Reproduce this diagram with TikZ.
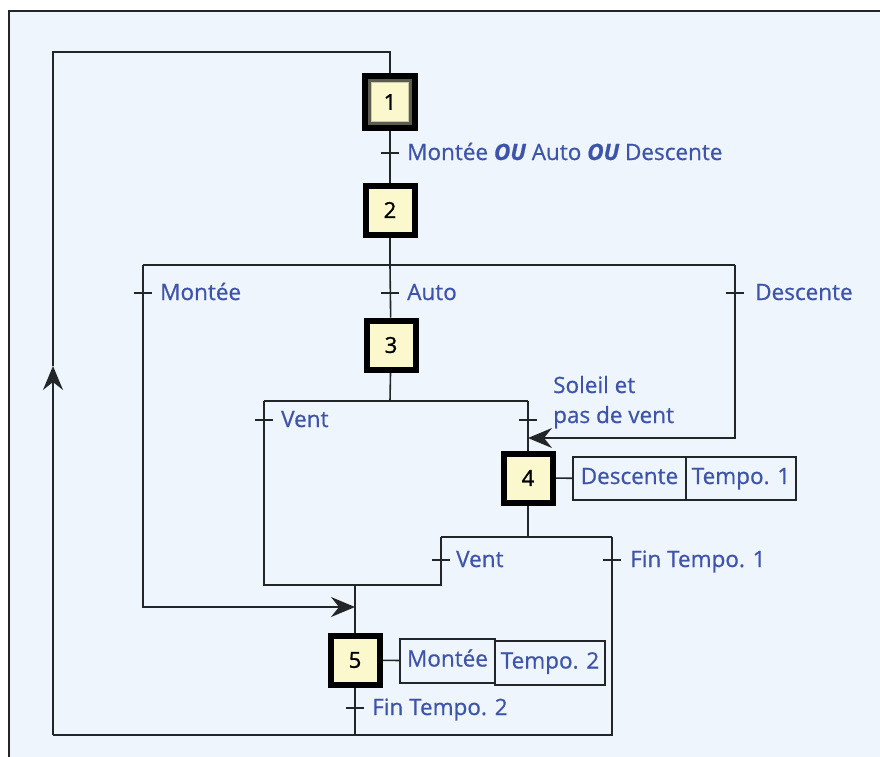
\documentclass[tikz,border=0pt]{standalone}
\usepackage{fontspec}
\setmainfont{Open Sans}
\newfontfamily\lblfont{Open Sans}[FakeBold=0.7]
\newfontfamily\numfont{Open Sans}[FakeBold=1.2]
\usetikzlibrary{arrows.meta}
\definecolor{bgc}{RGB}{238,245,252}
\definecolor{txt}{RGB}{62,84,170}
\definecolor{cream}{RGB}{251,248,206}
\definecolor{ln}{RGB}{35,38,40}
\definecolor{band}{RGB}{92,92,80}
\begin{document}
\begin{tikzpicture}[x=1pt,y=-1pt,
  wire/.style={draw=ln, line width=1.6pt},
  arr/.style={wire, -{Stealth[length=24pt,width=20pt,inset=8pt]}},
  stepbox/.style={draw=black, line width=6pt, fill=cream, minimum width=49pt, minimum height=49pt, inner sep=0pt, font=\numfont\fontsize{22}{22}\selectfont, text=black},
  initouter/.style={draw=black, line width=6pt, fill=band, minimum width=50pt, minimum height=52pt, inner sep=0pt},
  initinner/.style={draw=cream!70!band, line width=1pt, fill=cream, minimum width=37pt, minimum height=39pt, inner sep=0pt, font=\numfont\fontsize{22}{22}\selectfont, text=black},
  lbl/.style={text=txt, font=\lblfont\fontsize{22.5}{30}\selectfont, inner sep=0pt},
  act/.style={draw=ln, line width=1.5pt, text=txt, font=\lblfont\fontsize{22.5}{22.5}\selectfont, inner sep=0pt, text height=16pt, text depth=5pt}
]
\useasboundingbox (0,0) rectangle (880,756);
\fill[white] (0,0) rectangle (880,756);
\draw[fill=bgc, draw=ln, line width=1.5pt] (9,11) rectangle (900,780);

% junction coordinates
\coordinate (top) at (390,52);
\coordinate (tl) at (53,52);
\coordinate (bl) at (53,735);
\coordinate (up) at (53,366);
\coordinate (d2l) at (143,265);
\coordinate (d2m) at (390,265);
\coordinate (d2r) at (735,265);
\coordinate (mA) at (143,607);
\coordinate (mB) at (355,607);
\coordinate (dA) at (735,438);
\coordinate (dB) at (528,438);
\coordinate (d3l) at (264,401);
\coordinate (d3m) at (390,401);
\coordinate (d3r) at (528,401);
\coordinate (j1) at (264,585);
\coordinate (j2) at (441,585);
\coordinate (j5) at (355,585);
\coordinate (d4l) at (441,537);
\coordinate (d4m) at (528,537);
\coordinate (d4r) at (612,537);
\coordinate (br) at (612,735);
\coordinate (b5) at (355,735);
% transitions
\coordinate (t1) at (390,153);
\coordinate (t2a) at (143,293);
\coordinate (t2b) at (390,293);
\coordinate (t2c) at (735,293);
\coordinate (t3a) at (264,420);
\coordinate (t3b) at (528,420);
\coordinate (t4a) at (441,560);
\coordinate (t4b) at (612,560);
\coordinate (t5) at (355,708);

% steps
\node[initouter] (s1) at (390,102) {};
\node[stepbox] (s2) at (390,210) {2};
\node[stepbox] (s3) at (391,345) {3};
\node[stepbox] (s4) at (528,478) {4};
\node[stepbox] (s5) at (355,660) {5};

% actions
\node[act, minimum width=113pt, minimum height=43pt] (a4a) at (629.5,478.5) {Descente};
\node[act, minimum width=110pt, minimum height=43pt] (a4b) at (741,478.5) {Tempo. 1};
\node[act, minimum width=95pt, minimum height=44pt] (a5a) at (447.5,661) {Montée};
\node[act, minimum width=110pt, minimum height=44pt] (a5b) at (550,663) {Tempo. 2};

% wires
\draw[arr] (bl) -- (up);
\draw[wire] (up) -- (tl) -- (top) -- (s1.north);
\draw[wire] (s1) -- (s2);
\draw[wire] (s2) -- (d2m);
\draw[wire] (d2l) -- (d2r);
\draw[wire] (d2m) -- (s3);
\draw[arr] (d2l) -- (mA) -- (mB);
\draw[arr] (d2r) -- (dA) -- (dB);
\draw[wire] (s3) -- (d3m);
\draw[wire] (d3l) -- (d3r);
\draw[wire] (d3r) -- (s4);
\draw[wire] (d3l) -- (j1) -- (j2) -- (d4l);
\draw[wire] (s4) -- (d4m);
\draw[wire] (d4l) -- (d4r);
\draw[wire] (d4r) -- (br) -- (bl);
\draw[wire] (j5) -- (s5);
\draw[wire] (s5) -- (b5);
\draw[wire] (s4) -- (a4a);
\draw[wire] (s5) -- (a5a);
\foreach \t in {t1,t2a,t2b,t2c,t3a,t3b,t4a,t4b,t5}
  \draw[wire] ([xshift=-9pt]\t) -- ([xshift=9pt]\t);

% redraw steps on top
\node[initouter] at (s1) {};
\node[initinner] (s1i) at (s1) {1};
\node[stepbox] at (s2) {2};
\node[stepbox] at (s3) {3};
\node[stepbox] at (s4) {4};
\node[stepbox] at (s5) {5};

% labels
\node[lbl, anchor=base west] (l1) at (407,160) {Montée {\itshape\bfseries OU} Auto {\itshape\bfseries OU} Descente};
\node[lbl, anchor=base west] (l2a) at (160,300) {Montée};
\node[lbl, anchor=base west] (l2b) at (407,300) {Auto};
\node[lbl, anchor=base west] (l2c) at (755,300) {Descente};
\node[lbl, anchor=base west] (l3a) at (281,427) {Vent};
\node[lbl, anchor=base west, align=left] (l3b) at (553,423) {Soleil et\\pas de vent};
\node[lbl, anchor=base west] (l4a) at (456,567) {Vent};
\node[lbl, anchor=base west] (l4b) at (630,567) {Fin Tempo. 1};
\node[lbl, anchor=base west] (l5) at (372,715) {Fin Tempo. 2};
\end{tikzpicture}
\end{document}
